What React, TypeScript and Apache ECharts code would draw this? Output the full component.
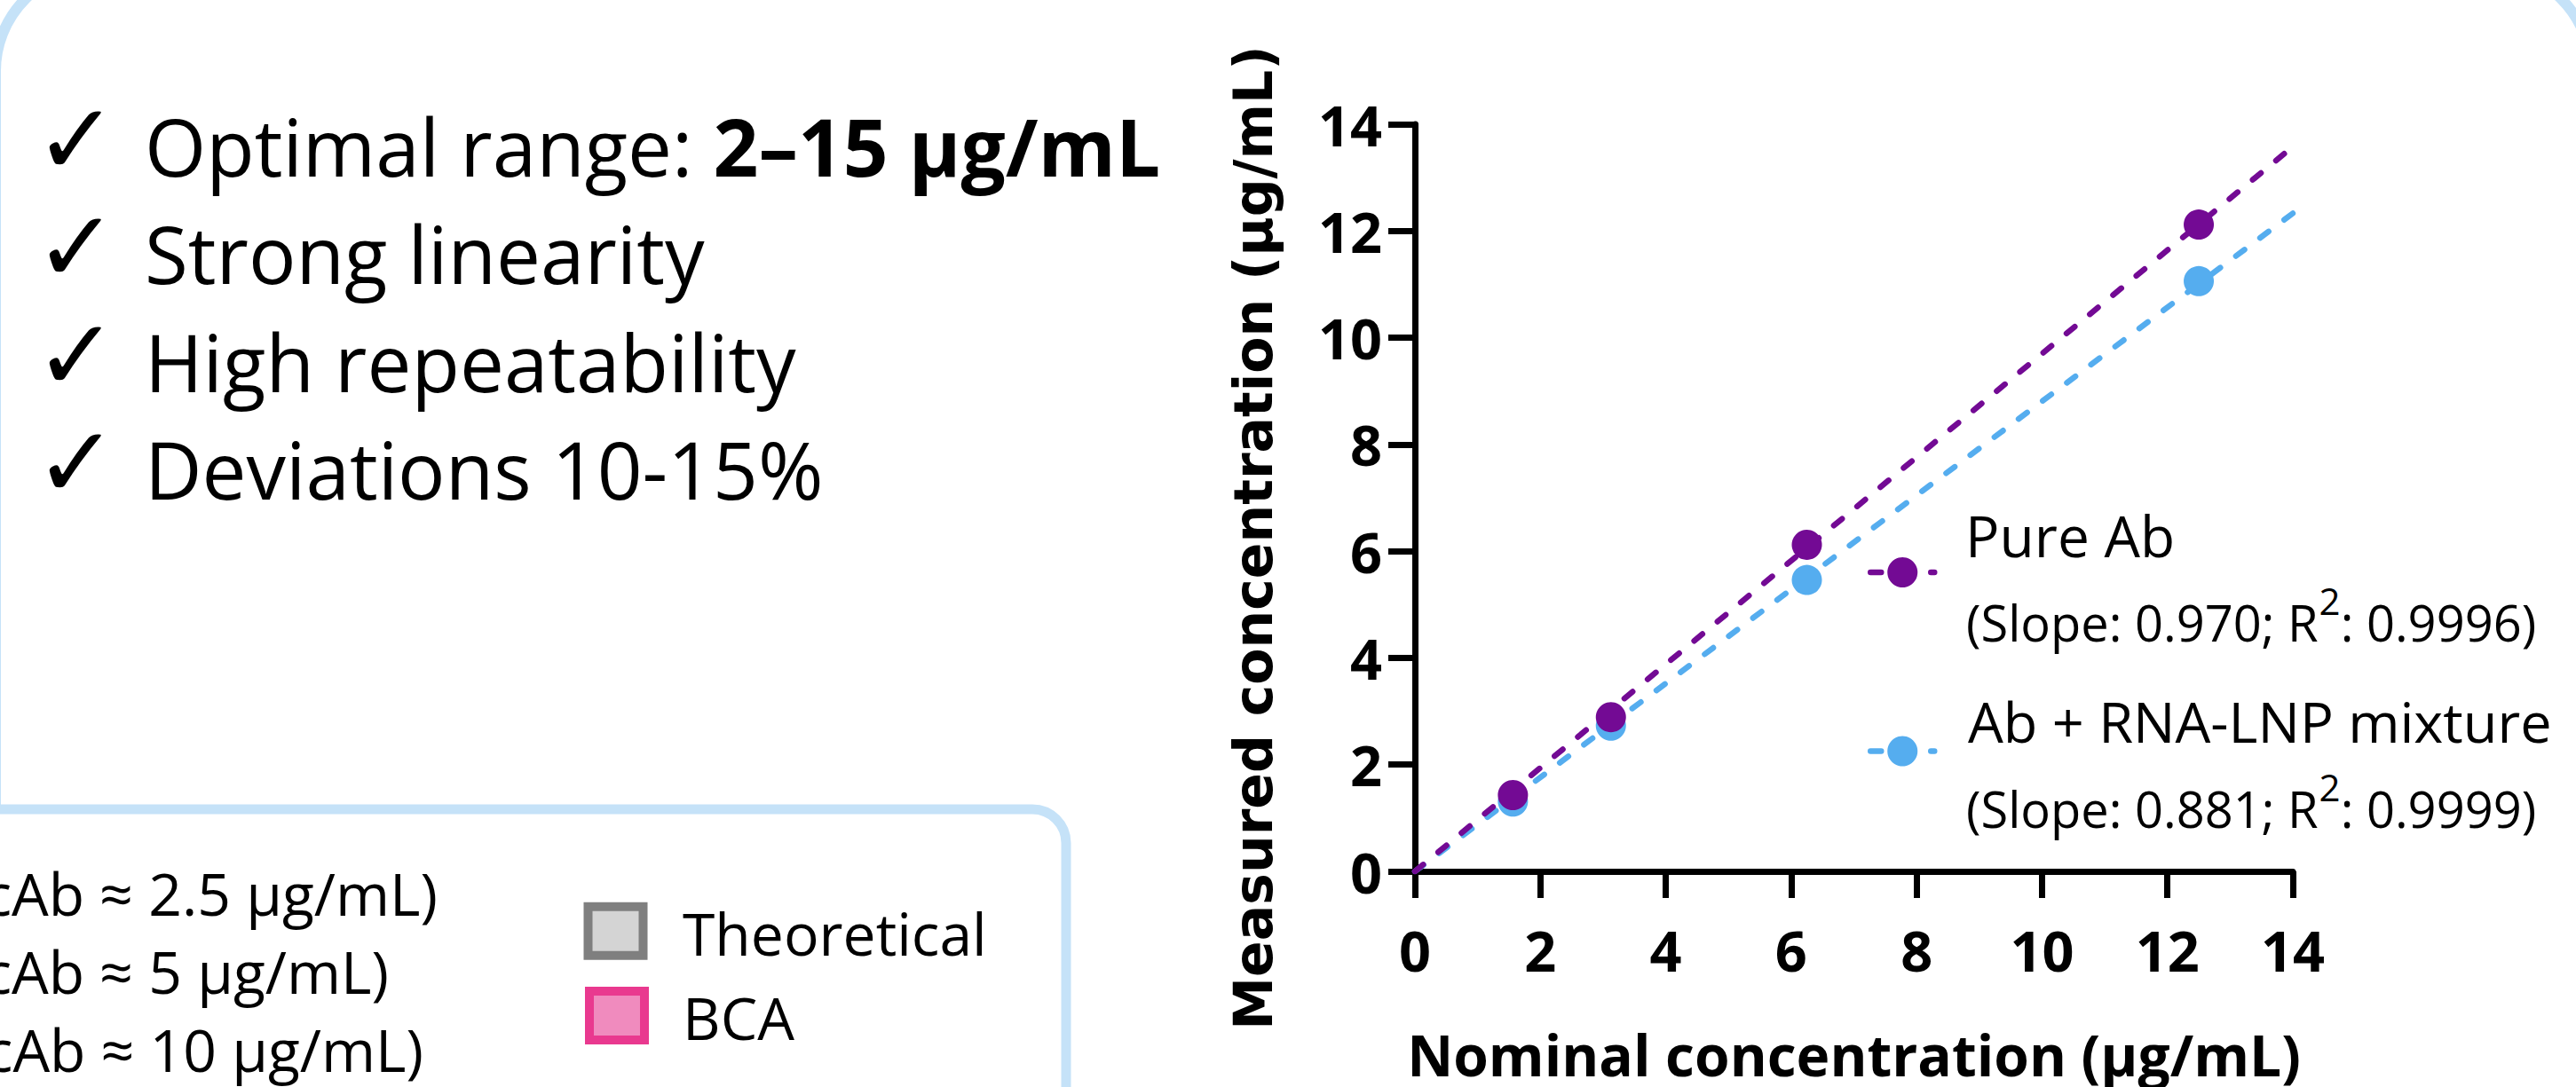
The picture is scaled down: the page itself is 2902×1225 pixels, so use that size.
import React, { useEffect, useRef } from 'react';
import * as echarts from 'echarts';

// ---------- data ----------
const nominal = [1.5625, 3.125, 6.25, 12.5];
const pureAb = [1.43, 2.89, 6.12, 12.12];
const mixture = [1.31, 2.73, 5.46, 11.06];
const pureFit = [[0, 0], [14, 13.58]];
const mixFit = [[0, 0], [14, 12.33]];
const seriesNames = ['Pure Ab', 'Ab + RNA-LNP mixture'];
const slopes = ['0.970', '0.881'];
const rSquared = ['0.9996', '0.9999'];
const bulletPoints = ['Optimal range: ', 'Strong linearity', 'High repeatability', 'Deviations 10-15%'];
const optimalRange = '2–15 µg/mL';
const sampleLines = ['cAb ≈ 2.5 µg/mL)', 'cAb ≈ 5 µg/mL)', 'cAb ≈ 10 µg/mL)'];
const methodLegend = ['Theoretical', 'BCA'];
const xTitle = 'Nominal concentration (µg/mL)';
const yTitle = 'Measured concentration (µg/mL)';

// ---------- styles ----------
const PURPLE = '#730A94';
const BLUE = '#55ADEF';
const PANEL = '#C5E2F8';
const OS = 'Open Sans';
const K = 0.388; // Open Sans central-baseline offset (em)

let measureCtx: CanvasRenderingContext2D | null = null;
function measure(text: string, size: number, family = OS, weight = 'normal') {
  if (!measureCtx) measureCtx = document.createElement('canvas').getContext('2d');
  if (!measureCtx) return text.length * size * 0.55;
  measureCtx.font = `${weight} ${size}px "${family}"`;
  return measureCtx.measureText(text).width;
}

function txt(x: number, base: number, text: string, size: number, extra: any = {}) {
  return {
    type: 'text',
    x,
    y: base - K * size,
    z: 10,
    style: {
      text,
      fontSize: size,
      fontFamily: OS,
      fontWeight: 'normal',
      fill: '#000',
      align: 'left',
      verticalAlign: 'middle',
      ...extra,
    },
  };
}

function slopeTexts(x: number, base: number, i: number) {
  const size = 56;
  const supSize = 42;
  const p1 = `(Slope: ${slopes[i]}; R`;
  const p2 = `: ${rSquared[i]})`;
  const w1 = measure(p1, size);
  const ws = measure('2', supSize);
  return [
    txt(x, base, p1, size),
    txt(x + w1 + 1, base - 30, '2', supSize),
    txt(x + w1 + ws + 1, base, p2, size),
  ];
}

export default function App() {
  const ref = useRef<HTMLDivElement>(null);

  useEffect(() => {
    if (!ref.current) return;
    const chart = echarts.init(ref.current, undefined, { renderer: 'svg' });

    const lineStyle = (c: string) => ({ width: 6.5, type: [12, 22], cap: 'round', color: c });

    const bulletBases = [199, 320, 442, 563];
    const graphic: any[] = [
      {
        type: 'rect',
        z: -10,
        shape: { x: -5, y: -35, width: 2924, height: 1500, r: 115 },
        style: { fill: 'none', stroke: PANEL, lineWidth: 12 },
      },
      {
        type: 'rect',
        z: -9,
        shape: { x: -50, y: 912, width: 1251, height: 600, r: 38 },
        style: { fill: '#fff', stroke: PANEL, lineWidth: 11 },
      },
      {
        type: 'text',
        x: 1412,
        y: 606,
        rotation: Math.PI / 2,
        z: 10,
        style: {
          text: yTitle,
          fontSize: 60,
          fontWeight: 'bold',
          fontFamily: 'DejaVu Sans',
          fill: '#000',
          align: 'center',
          verticalAlign: 'middle',
        },
      },
    ];

    bulletBases.forEach((b, i) => {
      graphic.push({
        type: 'text',
        x: 86,
        y: b - 42,
        z: 10,
        style: {
          text: '✓',
          fontSize: 112,
          fontFamily: 'DejaVu Sans',
          fontWeight: 'bold',
          fill: '#000',
          align: 'center',
          verticalAlign: 'middle',
        },
      });
      if (i === 0) {
        graphic.push({
          type: 'text',
          x: 163,
          y: b - K * 89,
          z: 10,
          style: {
            text: `{r|${bulletPoints[0]}}{b|${optimalRange}}`,
            align: 'left',
            verticalAlign: 'middle',
            rich: {
              r: { fontSize: 89, fontFamily: OS, fill: '#000' },
              b: { fontSize: 89, fontFamily: OS, fontWeight: 'bold', fill: '#000' },
            },
          },
        });
      } else {
        graphic.push(txt(163, b, bulletPoints[i], 89));
      }
    });

    const sampleRight = [493, 438, 477];
    const sampleBase = [1032, 1120, 1208];
    sampleLines.forEach((s, i) => graphic.push(txt(sampleRight[i], sampleBase[i], s, 66, { align: 'right' })));

    graphic.push({
      type: 'rect',
      z: 5,
      shape: { x: 662.5, y: 1021.7, width: 62, height: 55 },
      style: { fill: '#D4D4D4', stroke: '#7F7F7F', lineWidth: 10 },
    });
    graphic.push({
      type: 'rect',
      z: 5,
      shape: { x: 664, y: 1117, width: 62, height: 55 },
      style: { fill: '#F08BBE', stroke: '#E9398F', lineWidth: 10 },
    });
    graphic.push(txt(769, 1077, methodLegend[0], 66));
    graphic.push(txt(769, 1172, methodLegend[1], 66));

    graphic.push(txt(2214, 628, seriesNames[0], 64));
    graphic.push(...slopeTexts(2215, 723, 0));
    graphic.push(txt(2217, 837, seriesNames[1], 63));
    graphic.push(...slopeTexts(2215, 933, 1));

    const axisCommon = {
      type: 'value',
      min: 0,
      max: 14,
      interval: 2,
      axisLine: { show: true, onZero: false, lineStyle: { color: '#000', width: 7 } },
      axisTick: { show: true, length: 30, lineStyle: { color: '#000', width: 7 } },
      splitLine: { show: false },
      nameLocation: 'middle',
    };

    chart.setOption({
      animation: false,
      backgroundColor: '#fff',
      grid: { left: 1594, right: 319, top: 140, bottom: 228, containLabel: false },
      xAxis: {
        ...axisCommon,
        name: xTitle,
        nameGap: 174,
        nameTextStyle: { fontSize: 64, fontWeight: 'bold', fontFamily: OS, color: '#000' },
        axisLabel: { margin: 57, fontSize: 63, fontWeight: 'bold', fontFamily: OS, color: '#000' },
      },
      yAxis: {
        ...axisCommon,
        axisLabel: { margin: 37, fontSize: 63, fontWeight: 'bold', fontFamily: OS, color: '#000' },
      },
      legend: {
        data: seriesNames,
        orient: 'vertical',
        left: 2104,
        top: 628,
        padding: 0,
        itemWidth: 72,
        itemHeight: 42.5,
        itemGap: 167.5,
        selectedMode: false,
        formatter: () => ' ',
        textStyle: { fontSize: 10 },
        lineStyle: { width: 6.5 },
      },
      series: [
        {
          name: seriesNames[1],
          type: 'line',
          data: mixFit,
          showSymbol: false,
          symbol: 'circle',
          symbolSize: 34,
          color: BLUE,
          itemStyle: { color: BLUE },
          lineStyle: lineStyle(BLUE),
          silent: true,
          z: 2,
        },
        {
          name: 'mixture points',
          type: 'scatter',
          data: nominal.map((x, i) => [x, mixture[i]]),
          symbol: 'circle',
          symbolSize: 34,
          itemStyle: { color: BLUE, opacity: 1 },
          z: 3,
        },
        {
          name: seriesNames[0],
          type: 'line',
          data: pureFit,
          showSymbol: false,
          symbol: 'circle',
          symbolSize: 34,
          color: PURPLE,
          itemStyle: { color: PURPLE },
          lineStyle: lineStyle(PURPLE),
          silent: true,
          z: 4,
        },
        {
          name: 'pure points',
          type: 'scatter',
          data: nominal.map((x, i) => [x, pureAb[i]]),
          symbol: 'circle',
          symbolSize: 34,
          itemStyle: { color: PURPLE, opacity: 1 },
          z: 5,
        },
      ],
      graphic,
    });

    return () => chart.dispose();
  }, []);

  return (
    <div
      ref={ref}
      style={{ position: 'fixed', left: 0, top: 0, width: 2902, height: 1225, background: '#fff' }}
    />
  );
}
